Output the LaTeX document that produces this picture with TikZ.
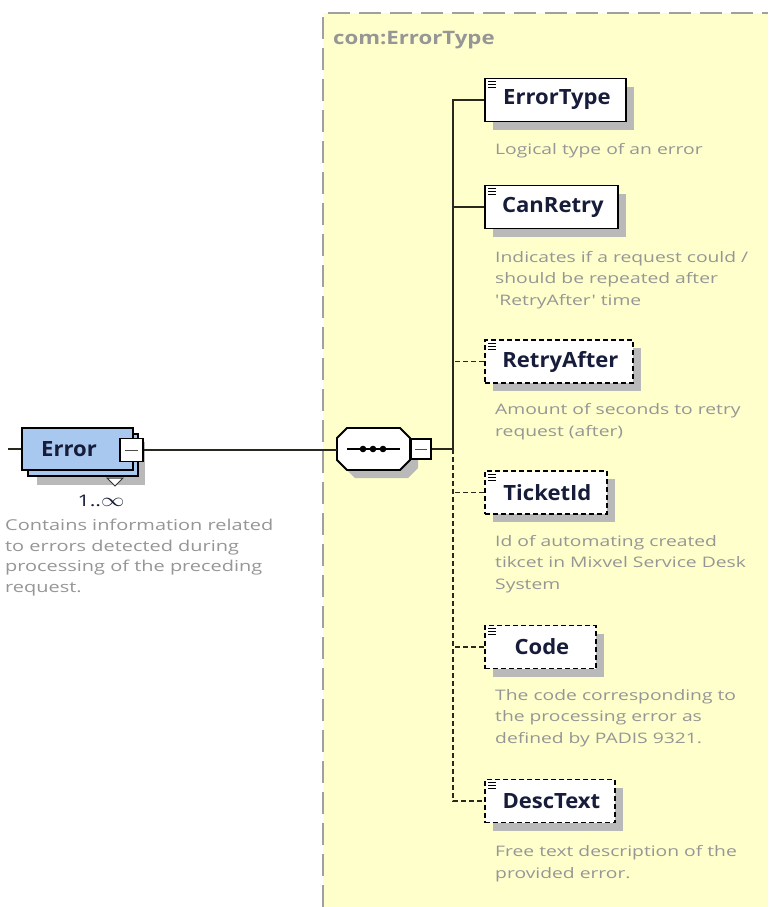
\documentclass[tikz,border=0pt]{standalone}
\usepackage{fontspec}
\usepackage{graphicx}
\setmainfont{Open Sans}
\newfontfamily\descfont{Open Sans}[FakeStretch=1.33]
\newfontfamily\labfont{Open Sans}[FakeStretch=1.05]
\newfontfamily\titfont{Open Sans}[FakeStretch=1.2]
\usetikzlibrary{shadows,calc}
\definecolor{bgyellow}{RGB}{255,255,204}
\definecolor{bordergray}{RGB}{160,160,160}
\definecolor{descgray}{RGB}{150,150,150}
\definecolor{labelnavy}{RGB}{22,28,58}
\definecolor{errblue}{RGB}{168,200,240}
\definecolor{shadowgray}{RGB}{185,185,185}
\definecolor{linedark}{RGB}{40,40,30}
\tikzset{
  elbox/.style={draw=black, line width=1.8pt, fill=white, anchor=west,
    minimum height=43pt, minimum width=#1, inner xsep=14pt, inner ysep=0pt,
    font=\labfont\fontsize{21}{21}\selectfont\bfseries, text=labelnavy,
    drop shadow={shadow xshift=8pt, shadow yshift=-8pt, fill=shadowgray, opacity=1}},
  optbox/.style={elbox=#1, dash pattern=on 5pt off 3pt},
  desc/.style={anchor=base west, inner sep=0pt, align=left, text=descgray,
    font=\descfont\fontsize{14.5}{21.5}\selectfont},
  conn/.style={draw=linedark, line width=1.6pt},
  optconn/.style={conn, dash pattern=on 5pt off 3pt},
}
\begin{document}
\begin{tikzpicture}[x=1pt,y=-1pt]
\useasboundingbox (0,0) rectangle (768,907);
\fill[white] (0,0) rectangle (768,907);
% yellow complex type region
\fill[bgyellow] (323,13) rectangle (768,907);
\draw[bordergray, line width=2pt, dash pattern=on 22pt off 9pt] (323,907) -- (323,13) -- (768,13);
\node[anchor=west, inner sep=0pt, text=descgray, font=\titfont\fontsize{18.5}{18.5}\selectfont\bfseries] (title) at (333,40) {com:ErrorType};

% vertical branch line
\coordinate (vtop) at (453,100);
\coordinate (vmid) at (453,449);
\coordinate (vbot) at (453,801);

% elements
\node[elbox=141pt] (et) at (484,100) {\hspace*{3pt}ErrorType};
\node[elbox=133pt] (cr) at (484,207) {\hspace*{3pt}CanRetry};
\node[optbox=148pt] (ra) at (484,361.5) {\hspace*{3pt}RetryAfter};
\node[optbox=122pt] (ti) at (484,492.5) {\hspace*{3pt}TicketId};
\node[optbox=111pt] (co) at (484,647) {\hspace*{3pt}Code};
\node[optbox=130pt] (dt) at (484,801) {\hspace*{3pt}DescText};

\foreach \n in {et,cr,ra,ti,co,dt}{
  \draw[black, line width=1pt] ([shift={(4,4)}]\n.north west) -- ++(8,0)
    ([shift={(4,7)}]\n.north west) -- ++(8,0)
    ([shift={(4,10)}]\n.north west) -- ++(8,0);
}

% descriptions (anchor = baseline of the last line)
\node[desc] (etd) at (495,154) {Logical type of an error};
\node[desc] (crd) at (495,305) {Indicates if a request could /\\should be repeated after\\'RetryAfter' time};
\node[desc] (rad) at (495,436) {Amount of seconds to retry\\request (after)};
\node[desc] (tid) at (495,589) {Id of automating created\\tikcet in Mixvel Service Desk\\System};
\node[desc] (cod) at (495,743) {The code corresponding to\\the processing error as\\defined by PADIS 9321.};
\node[desc] (dtd) at (495,878) {Free text description of the\\provided error.};

% connectors
\draw[conn] (et.west) -| (vmid);
\draw[conn] (cr.west) -- (cr.west -| vtop);
\draw[optconn] (vmid) -- (vbot) -- (dt.west);
\draw[optconn] (ra.west) -- (ra.west -| vtop);
\draw[optconn] (ti.west) -- (ti.west -| vtop);
\draw[optconn] (co.west) -- (co.west -| vtop);

% sequence compositor
\fill[shadowgray] (355,436) -- (408,436) -- (418,446) -- (418,468) -- (408,478) -- (355,478) -- (345,468) -- (345,446) -- cycle;
\node[minimum width=73pt, minimum height=42pt, inner sep=0pt] (seqshape) at (373.5,449) {};
\draw[fill=white, draw=black, line width=1.8pt] (347,428) -- (400,428) -- (410,438) -- (410,460) -- (400,470) -- (347,470) -- (337,460) -- (337,438) -- cycle;
\draw[black, line width=1.2pt] (347,449) -- (400,449);
\foreach \xx in {363,373,383} \fill[black] (\xx,449) circle (3.3pt);
\node[draw=black, line width=1.3pt, fill=white, minimum width=20pt, minimum height=20pt, inner sep=0pt] (seqm) at (421,449) {};
\draw[black!70, line width=1pt] (415,449) -- (427,449);
\draw[conn] (seqm.east) -- (vmid);

% Error element
\fill[shadowgray] (37,442) rectangle (145,485);
\draw[fill=errblue, draw=black, line width=1.6pt] (28,434) rectangle (138,476);
\node[draw=black, line width=1.8pt, fill=errblue, minimum width=111pt, minimum height=42pt, inner sep=0pt] (err) at (77.5,449) {};
\node[anchor=west, inner sep=0pt, text=labelnavy, font=\labfont\fontsize{21}{21}\selectfont\bfseries] (errl) at (41,449) {Error};
\node[draw=black, line width=1.3pt, fill=white, minimum width=23pt, minimum height=23pt, inner sep=0pt] (errm) at (131.5,450) {};
\draw[black!70, line width=1pt] (125,450) -- (138,450);
\draw[black!80, line width=1pt, fill=white] (107,478) -- (123,478) -- (115,486) -- cycle;
\coordinate (errin) at (8,449);
\draw[conn] (errin) -- (err.west |- errin);
\draw[conn] (errm.east) -- (seqshape.west |- errm.east);
\node[anchor=center, inner sep=0pt, text=labelnavy, font=\descfont\fontsize{16}{16}\selectfont] (mult) at (101,501) {1..\scalebox{1.35}[1.1]{$\infty$}};
\node[desc, font=\descfont\fontsize{15}{20.5}\selectfont] (errd) at (5,592) {Contains information related\\to errors detected during\\processing of the preceding\\request.};
\end{tikzpicture}
\end{document}
